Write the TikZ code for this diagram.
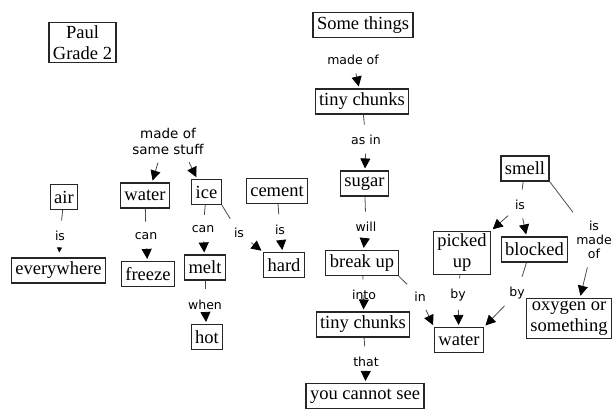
\documentclass[tikz,border=0pt]{standalone}
\usepackage{fontspec}
\setmainfont{Liberation Serif}
\newfontfamily\labfont{DejaVu Sans}
\usetikzlibrary{arrows.meta}
\tikzset{
  box/.style={draw=black!85, line width=1.1pt, inner xsep=4pt, inner ysep=3pt,
    minimum height=25pt, align=center,
    font=\fontsize{18.5}{21}\selectfont},
  lab/.style={inner sep=1.5pt, align=center, font=\labfont\fontsize{12.5}{14}\selectfont},
  stub/.style={draw=black!70, line width=0.8pt, shorten >=9pt},
  arr/.style={draw=black!70, line width=0.8pt, -{Triangle[length=10pt,width=10pt,fill=black,color=black]}, shorten <=7pt, shorten >=2pt},
  sarr/.style={draw=black!70, line width=0.8pt, -{Triangle[length=5pt,width=5pt,fill=black,color=black]}, shorten <=8pt, shorten >=5pt}
}
\begin{document}
\begin{tikzpicture}[x=1pt,y=-1pt]
\useasboundingbox (0,0) rectangle (613,410);
% boxes
\node[box] (paul) at (82.5,42.5) {Paul\\Grade 2};
\node[box] (some) at (363,25) {Some things};
\node[box] (tc1) at (362,101.5) {tiny chunks};
\node[box] (sugar) at (364.5,183.5) {sugar};
\node[box] (breakup) at (362,263) {break up};
\node[box] (tc2) at (363,324.5) {tiny chunks};
\node[box] (see) at (365,396) {you cannot see};
\node[box] (air) at (64,197) {air};
\node[box] (every) at (58.5,270.5) {everywhere};
\node[box] (water) at (145,195.5) {water};
\node[box] (freeze) at (148,274) {freeze};
\node[box] (ice) at (206.5,192) {ice};
\node[box] (melt) at (205,267.5) {melt};
\node[box] (hot) at (207,337) {hot};
\node[box] (cement) at (277,191) {cement};
\node[box] (hard) at (284,265) {hard};
\node[box] (smell) at (525,168.5) {smell};
\node[box] (picked) at (462,253) {picked\\up};
\node[box] (blocked) at (534.5,249.5) {blocked};
\node[box] (water2) at (459,340) {water};
\node[box] (oxygen) at (569,318.5) {oxygen or\\something};
% labels
\node[lab] (lmade1) at (353,60) {made of};
\node[lab] (lasin) at (366,140) {as in};
\node[lab] (lwill) at (366,227) {will};
\node[lab] (linto) at (364,295) {into};
\node[lab] (lthat) at (366,362) {that};
\node[lab] (lis1) at (60,236) {is};
\node[lab] (lcan1) at (146,236) {can};
\node[lab, font=\labfont\fontsize{13.5}{16}\selectfont] (lsame) at (168,141) {made of\\same stuff};
\node[lab] (lcan2) at (203,229) {can};
\node[lab] (lwhen) at (205,305) {when};
\node[lab] (lis2) at (239,233) {is};
\node[lab] (lis3) at (280,230) {is};
\node[lab] (lin) at (420,297) {in};
\node[lab] (lis4) at (520,205) {is};
\node[lab] (lby1) at (458,295) {by};
\node[lab] (lby2) at (517,293) {by};
\node[lab] (lismade) at (594,240) {is\\made\\of};
% links
\draw[arr] (lmade1) -- (tc1);
\draw[stub] (tc1) -- (lasin);
\draw[arr] (lasin) -- (sugar);
\draw[stub] (sugar) -- (lwill);
\draw[arr] (lwill) -- (breakup);
\draw[stub] (breakup) -- (linto);
\draw[arr] (linto) -- (tc2);
\draw[stub] (tc2) -- (lthat);
\draw[arr] (lthat) -- (see);
\draw[stub] (air) -- (lis1);
\draw[sarr] (lis1) -- (every);
\draw[stub] (water) -- (lcan1);
\draw[arr] (lcan1) -- (freeze);
\draw[arr] ([xshift=-8pt]lsame.south) -- ([xshift=7pt]water.north);
\draw[arr] ([xshift=18pt]lsame.south) -- ([xshift=6pt]ice.north west);
\draw[stub] (ice) -- (lcan2);
\draw[arr] (lcan2) -- (melt);
\draw[stub] (melt) -- (lwhen);
\draw[arr] (lwhen) -- (hot);
\draw[stub] (ice.south east) -- (lis2);
\draw[arr] (lis2) -- (hard.north west);
\draw[stub] (cement) -- (lis3);
\draw[arr] (lis3) -- (hard);
\draw[stub] (breakup.south east) -- (lin);
\draw[arr] (lin) -- (water2.north west);
\draw[stub] (smell) -- (lis4);
\draw[arr] (lis4) -- (picked.north east);
\draw[arr] (lis4) -- ([xshift=-8pt]blocked.north);
\draw[stub] (smell.south east) -- (lismade);
\draw[arr] (lismade) -- ([xshift=11pt]oxygen.north);
\draw[stub] (picked) -- (lby1);
\draw[arr] (lby1) -- (water2);
\draw[stub] ([xshift=-8pt]blocked.south) -- (lby2);
\draw[arr] (lby2) -- (water2.north east);
\end{tikzpicture}
\end{document}
